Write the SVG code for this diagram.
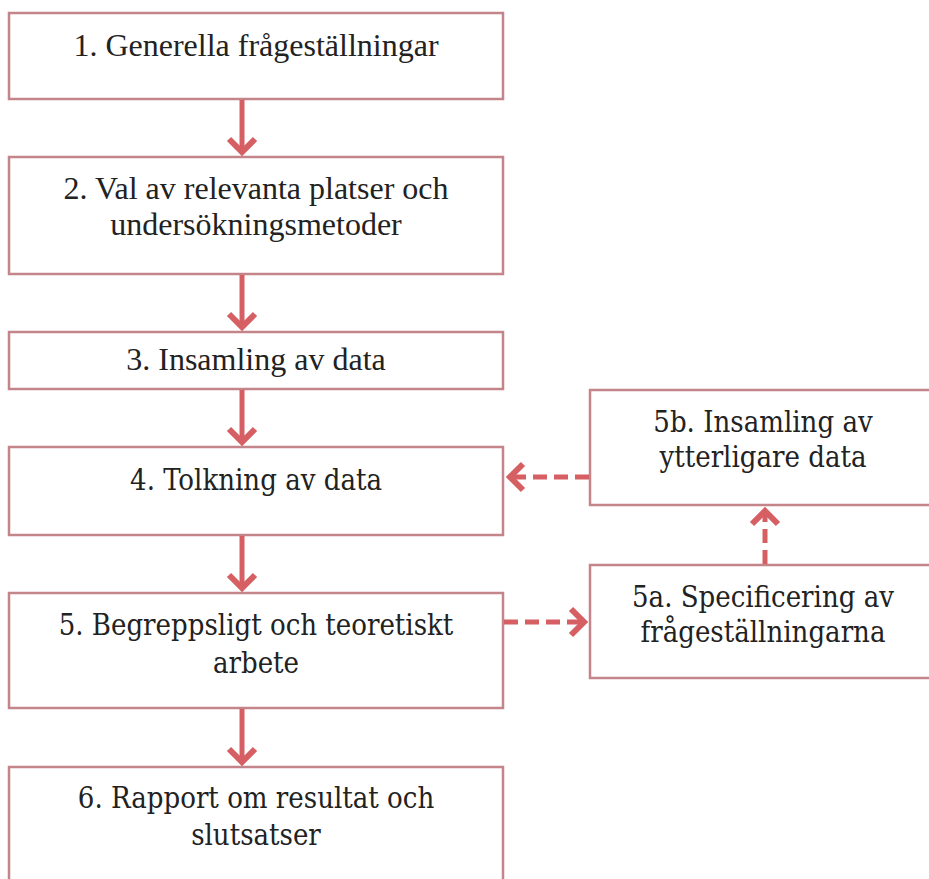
<svg xmlns="http://www.w3.org/2000/svg" width="929" height="879" viewBox="0 0 929 879">
  <style>
    .box { fill: #ffffff; stroke: #c4858a; stroke-width: 2.5; }
    .t1 { font-family: "Liberation Serif", "Times New Roman", serif; font-size: 32px; fill: #222; text-anchor: middle; }
    .t2 { font-family: "DejaVu Serif", "Liberation Serif", serif; font-stretch: condensed; font-size: 29px; fill: #222; text-anchor: middle; }
    .flow { fill: none; stroke: #d65f64; stroke-width: 5; }
    .dash { fill: none; stroke: #d65f64; stroke-width: 5; stroke-dasharray: 14 7; }
    .head { fill: none; stroke: #d65f64; stroke-width: 6; stroke-linejoin: miter; stroke-miterlimit: 10; }
  </style>
  <defs>
    <!-- open chevron arrowhead; vertex at the path end, miter tip sticks out ~4px -->
    <marker id="chev" markerUnits="userSpaceOnUse" viewBox="-20 -20 30 40" markerWidth="30" markerHeight="40" refX="0" refY="0" orient="auto" overflow="visible">
      <path class="head" d="M-13,-13 L0,0 L-13,13"/>
    </marker>
  </defs>

  <rect width="929" height="879" fill="#ffffff"/>

  <g id="n1">
    <rect class="box" x="9" y="13" width="494" height="86"/>
    <text class="t1" x="256" y="56">1. Generella frågeställningar</text>
  </g>
  <g id="n2">
    <rect class="box" x="9" y="157" width="494" height="117"/>
    <text class="t1" x="256" y="199">2. Val av relevanta platser och</text>
    <text class="t1" x="256" y="235">undersökningsmetoder</text>
  </g>
  <g id="n3">
    <rect class="box" x="9" y="332" width="494" height="57"/>
    <text class="t1" x="256" y="370">3. Insamling av data</text>
  </g>
  <g id="n4">
    <rect class="box" x="9" y="447" width="494" height="88"/>
    <text class="t2" x="256" y="490">4. Tolkning av data</text>
  </g>
  <g id="n5">
    <rect class="box" x="9" y="593" width="494" height="115"/>
    <text class="t2" x="256" y="635">5. Begreppsligt och teoretiskt</text>
    <text class="t2" x="256" y="673">arbete</text>
  </g>
  <g id="n6">
    <rect class="box" x="9" y="767" width="494" height="130"/>
    <text class="t2" x="256" y="808">6. Rapport om resultat och</text>
    <text class="t2" x="256" y="845">slutsatser</text>
  </g>
  <g id="n5b">
    <rect class="box" x="590" y="390" width="350" height="115"/>
    <text class="t2" x="763" y="432">5b. Insamling av</text>
    <text class="t2" x="763" y="467">ytterligare data</text>
  </g>
  <g id="n5a">
    <rect class="box" x="590" y="565" width="350" height="113"/>
    <text class="t2" x="763" y="607">5a. Specificering av</text>
    <text class="t2" x="763" y="642">frågeställningarna</text>
  </g>

  <g id="connectors">
    <line class="flow" x1="242" y1="100" x2="242" y2="152" marker-end="url(#chev)"/>
    <line class="flow" x1="242" y1="275" x2="242" y2="327" marker-end="url(#chev)"/>
    <line class="flow" x1="242" y1="390" x2="242" y2="442" marker-end="url(#chev)"/>
    <line class="flow" x1="242" y1="536" x2="242" y2="588" marker-end="url(#chev)"/>
    <line class="flow" x1="242" y1="709" x2="242" y2="762" marker-end="url(#chev)"/>
    <line class="dash" x1="589" y1="477" x2="510" y2="477" marker-end="url(#chev)"/>
    <line class="dash" x1="504" y1="622" x2="584" y2="622" marker-end="url(#chev)"/>
    <line class="dash" x1="765" y1="564" x2="765" y2="511" marker-end="url(#chev)"/>
  </g>
</svg>
